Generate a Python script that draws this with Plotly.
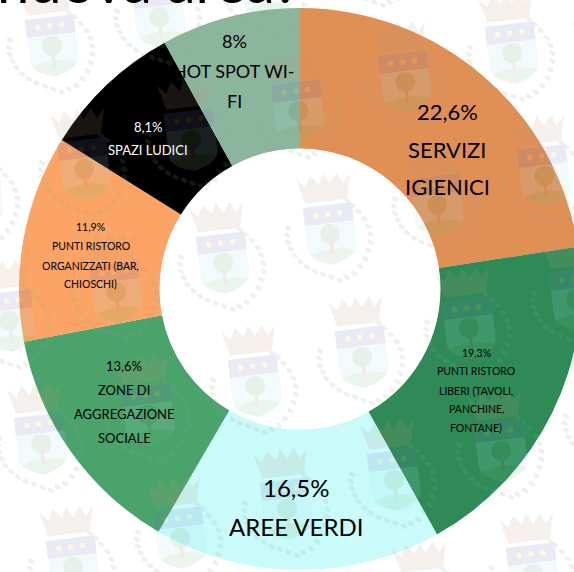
import base64
import plotly.graph_objects as go

# ---- data ----
categories = ["SERVIZI IGIENICI", "PUNTI RISTORO LIBERI (TAVOLI, PANCHINE, FONTANE)", "AREE VERDI",
              "ZONE DI AGGREGAZIONE SOCIALE", "PUNTI RISTORO ORGANIZZATI (BAR, CHIOSCHI)",
              "SPAZI LUDICI", "HOT SPOT WI-FI"]
values = [22.6, 19.3, 16.5, 13.6, 11.9, 8.1, 8.0]
value_labels = ["22,6%", "19,3%", "16,5%", "13,6%", "11,9%", "8,1%", "8%"]
label_lines = [["SERVIZI", "IGIENICI"],
               ["PUNTI RISTORO", "LIBERI (TAVOLI,", "PANCHINE,", "FONTANE)"],
               ["AREE VERDI"],
               ["ZONE DI", "AGGREGAZIONE", "SOCIALE"],
               ["PUNTI RISTORO", "ORGANIZZATI (BAR,", "CHIOSCHI)"],
               ["SPAZI LUDICI"],
               ["HOT SPOT WI-", "FI"]]
title_text = "nuova area?"

# ---- styling / layout ----
colors = ["#E08F55", "#2E8B57", "#C9FBFB", "#4AA36B", "#FBA465", "#000000", "#8CB59E"]
text_colors = ["#000000"] * 5 + ["#FFFFFF", "#000000"]
font_sizes = [22, 10.5, 24, 13, 10.5, 13, 18]
# centre x and the y of each text line, in page pixels
text_x = [447, 476, 296, 124, 91, 148, 234]
text_y = [[111, 149, 186], [353, 371, 391, 409, 428], [487, 526], [366, 390, 414, 438],
          [227, 246, 266, 284], [127, 150], [41, 71, 101]]

S = 620  # canvas side, larger than the window so the ring may be cropped
L, R, T, B = 18, 582, 8, 570
FONT = "Lato, Carlito, Calibri, sans-serif"


def px(x):
    return x / S


def py(y):
    return 1 - y / S


# faint crest used as a repeating background stamp
def leaf_ring():
    out = []
    for cx, cy in [(6, 50), (4, 57), (4, 64), (6, 71), (9, 78), (14, 85), (20, 91), (27, 96), (35, 100), (43, 104),
                   (51, 108), (58, 106), (66, 103), (73, 97), (79, 90), (83, 82), (86, 74), (87, 66), (86, 58), (83, 50),
                   (78, 42), (73, 35), (68, 30)]:
        out.append(f'<ellipse cx="{cx}" cy="{cy}" rx="3.4" ry="2.2" fill="#8fa88c" transform="rotate(40 {cx} {cy})"/>')
    return "".join(out)


crest = f'''<svg xmlns="http://www.w3.org/2000/svg" viewBox="0 0 92 116">
<g transform="rotate(-7 47 60)">
<path d="M20 3 L28 12 L34 1 L42 11 L47 0 L53 11 L61 1 L66 12 L74 3 L68 28 L26 28 Z" fill="#c09878"/>
{leaf_ring()}
<path d="M23 32 H72 V74 Q72 86 47 92 Q23 86 23 74 Z" fill="#a8e0ec"/>
<path d="M23 32 H72 V50 H23 Z" fill="#6a72b8"/>
<path d="M25 80 Q47 72 70 80 Q64 87 47 92 Q30 87 25 80 Z" fill="#6fc078"/>
<circle cx="35" cy="41" r="2.8" fill="#e8d040"/><circle cx="47" cy="41" r="2.8" fill="#e8d040"/><circle cx="59" cy="41" r="2.8" fill="#e8d040"/>
<circle cx="47" cy="61" r="10" fill="#5a9a68"/>
<rect x="45.5" y="68" width="3" height="14" fill="#b06a58"/>
</g></svg>'''
crest_uri = "data:image/svg+xml;base64," + base64.b64encode(crest.encode()).decode()

CREST_W, CREST_H = 92, 116
images = []
for i in range(-4, 6):
    for j in range(-3, 5):
        cx = 223 + 107 * i + 32 * j
        cy = 262 - 29 * i + 123 * j
        if -60 < cx < 640 and -60 < cy < 640:
            images.append(dict(source=crest_uri, xref="paper", yref="paper",
                               x=px(cx - 47), y=py(cy - 60),
                               sizex=CREST_W / S, sizey=CREST_H / S,
                               xanchor="left", yanchor="top", sizing="stretch",
                               opacity=0.14, layer="above"))

annotations = []
for k, lines in enumerate(label_lines):
    for t, y in zip([value_labels[k]] + lines, text_y[k]):
        annotations.append(dict(text=t, x=px(text_x[k]), y=py(y), xref="paper", yref="paper",
                                xanchor="center", yanchor="middle", showarrow=False,
                                font=dict(family=FONT, size=font_sizes[k], color=text_colors[k])))

# cropped title along the top edge
annotations.append(dict(text=title_text, x=px(148), y=py(-20), xref="paper", yref="paper",
                        xanchor="center", yanchor="middle", showarrow=False,
                        font=dict(family=FONT, size=58, color="#000000")))

fig = go.Figure(go.Pie(
    labels=categories, values=values, sort=False, direction="clockwise", rotation=0,
    hole=0.50, textinfo="none", hoverinfo="label+value",
    marker=dict(colors=colors, line=dict(width=0)),
    domain=dict(x=[px(L), px(R)], y=[py(B), py(T)]),
))
fig.update_layout(width=S, height=S, autosize=False, margin=dict(l=0, r=0, t=0, b=0),
                  paper_bgcolor="white", showlegend=False,
                  images=images, annotations=annotations)
fig.write_html("out.html", config=dict(displayModeBar=False),
               post_script="document.documentElement.style.overflow='hidden';document.body.style.overflow='hidden';document.body.style.margin='0';")
